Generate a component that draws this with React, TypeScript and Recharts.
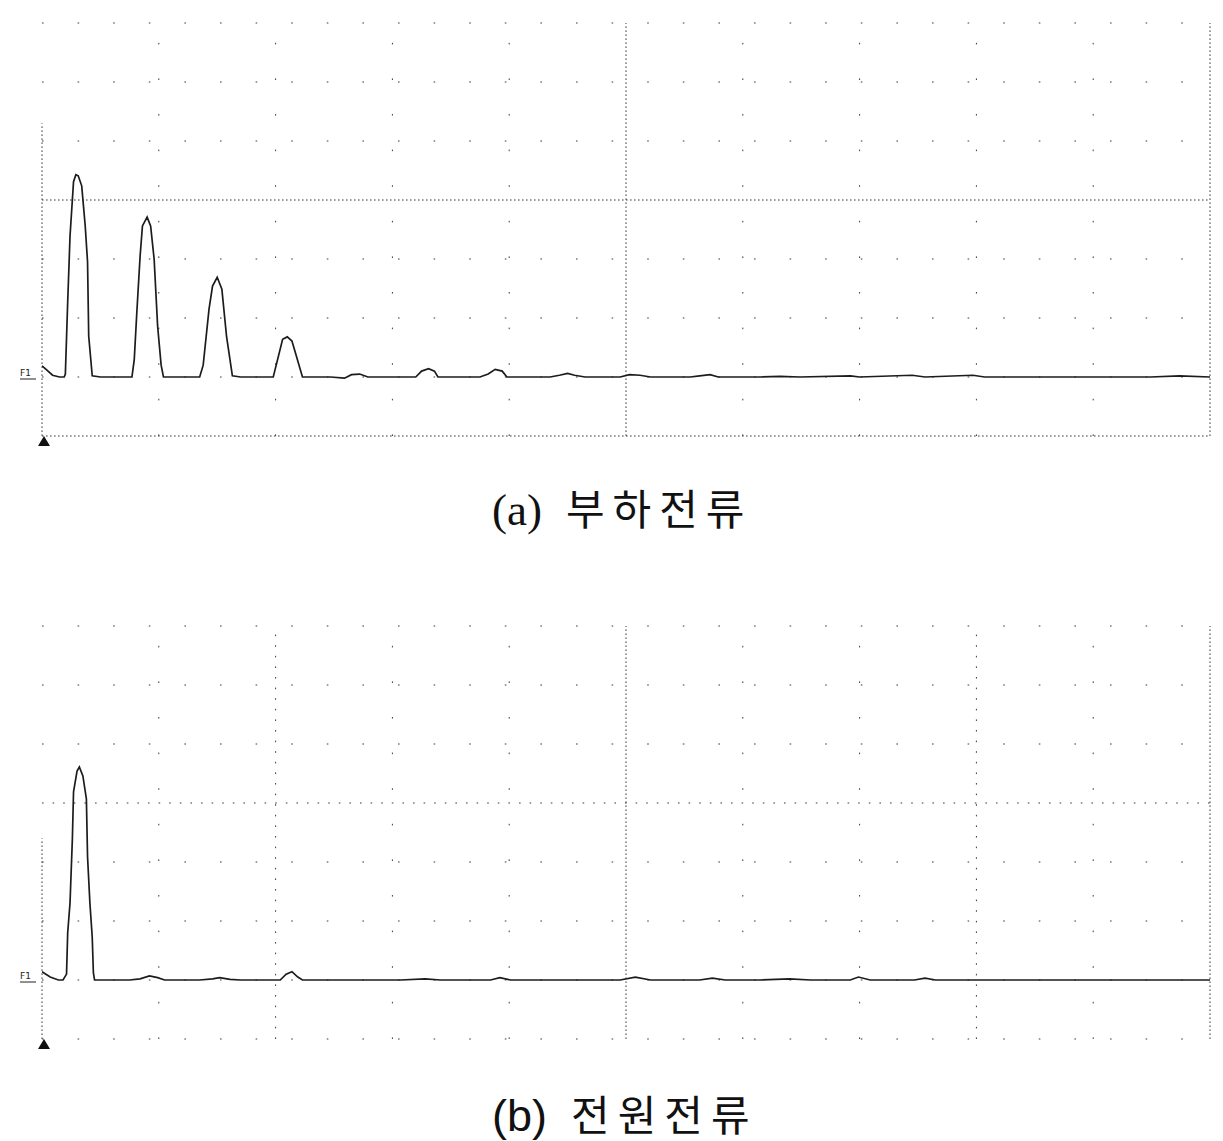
import React from "react";
import { LineChart, Line, XAxis, YAxis, ReferenceLine, ReferenceDot } from "recharts";

// Panel (a) load current spectrum: x in screen divisions (0..10), amplitude in vertical divisions
const loadX = [0.0, 0.04, 0.09, 0.15, 0.19, 0.2, 0.22, 0.24, 0.27, 0.29, 0.31, 0.34, 0.37, 0.39, 0.4, 0.43, 0.5, 0.67, 0.77, 0.79, 0.81, 0.84, 0.86, 0.9, 0.93, 0.96, 0.99, 1.02, 1.04, 1.22, 1.35, 1.38, 1.43, 1.46, 1.5, 1.54, 1.58, 1.63, 1.7, 1.87, 1.98, 2.06, 2.1, 2.14, 2.23, 2.47, 2.59, 2.65, 2.72, 2.79, 3.07, 3.2, 3.25, 3.31, 3.36, 3.39, 3.75, 3.82, 3.88, 3.94, 3.98, 4.35, 4.43, 4.5, 4.56, 4.65, 4.95, 5.03, 5.12, 5.21, 5.55, 5.63, 5.72, 5.79, 6.15, 6.32, 6.49, 6.92, 7.0, 7.45, 7.56, 7.97, 8.07, 9.06, 9.49, 9.74, 10.0];
const loadY = [0.19, 0.12, 0.03, 0.0, 0.0, 0.05, 1.27, 2.39, 3.31, 3.43, 3.41, 3.24, 2.56, 1.95, 0.69, 0.02, 0.0, 0.0, 0.0, 0.3, 1.03, 2.05, 2.56, 2.71, 2.56, 2.0, 0.86, 0.2, 0.0, 0.0, 0.0, 0.2, 1.15, 1.54, 1.69, 1.49, 0.69, 0.02, 0.0, 0.0, 0.0, 0.64, 0.68, 0.61, 0.0, 0.0, -0.02, 0.04, 0.05, 0.0, 0.0, 0.0, 0.1, 0.14, 0.1, 0.0, 0.0, 0.05, 0.13, 0.1, 0.0, 0.0, 0.03, 0.06, 0.03, 0.0, 0.0, 0.04, 0.03, 0.0, 0.0, 0.02, 0.04, 0.0, 0.0, 0.01, 0.0, 0.02, 0.0, 0.03, 0.0, 0.03, 0.0, 0.0, 0.0, 0.02, 0.0];

// Panel (b) source current spectrum
const sourceX = [0.0, 0.07, 0.14, 0.18, 0.21, 0.22, 0.24, 0.26, 0.27, 0.3, 0.32, 0.35, 0.38, 0.39, 0.41, 0.43, 0.44, 0.45, 0.75, 0.84, 0.92, 0.99, 1.05, 1.35, 1.46, 1.52, 1.61, 1.7, 2.04, 2.09, 2.14, 2.19, 2.23, 3.07, 3.28, 3.41, 3.84, 3.92, 4.01, 4.95, 5.08, 5.21, 5.63, 5.74, 5.85, 6.15, 6.4, 6.58, 6.92, 6.99, 7.09, 7.47, 7.56, 7.65, 10.0];
const sourceY = [0.14, 0.05, 0.0, 0.0, 0.1, 0.8, 1.31, 2.39, 3.19, 3.54, 3.61, 3.46, 3.07, 2.09, 1.31, 0.73, 0.12, 0.0, 0.0, 0.02, 0.07, 0.04, 0.0, 0.0, 0.02, 0.04, 0.01, 0.0, 0.0, 0.1, 0.14, 0.05, 0.0, 0.0, 0.02, 0.0, 0.0, 0.04, 0.0, 0.0, 0.05, 0.0, 0.0, 0.03, 0.0, 0.0, 0.02, 0.0, 0.0, 0.05, 0.0, 0.0, 0.03, 0.0, 0.0];

const xGrid = [0, 1, 2, 3, 4, 5, 6, 7, 8, 9, 10];
const yGrid = [-1, 0, 1, 2, 3, 4, 5, 6];

const captionA = { tag: "(a)", text: "부하전류" };
const captionB = { tag: "(b)", text: "전원전류" };

const loadData = loadX.map((x, i) => ({ x, y: loadY[i] }));
const sourceData = sourceX.map((x, i) => ({ x, y: sourceY[i] }));

const GRID = "#3a3a3a";
const SPARSE = "1.6 34";
const DENSE = "1.6 2.4";
const MID = "1.6 9";

type LineSpec = { v: number; dash: string; from?: number; to?: number };

function Panel({ data, top, vLines, hLines }: { data: { x: number; y: number }[]; top: number; vLines: LineSpec[]; hLines: LineSpec[] }) {
  return (
    <div style={{ position: "absolute", left: 0, top, width: 1223, height: 470 }}>
      <LineChart width={1223} height={470} data={data} margin={{ top: 23, right: 13, bottom: 34, left: 42 }}>
        <XAxis type="number" dataKey="x" domain={[0, 10]} hide allowDataOverflow />
        <YAxis type="number" domain={[-1, 6]} hide allowDataOverflow />
        {hLines.map((l, i) =>
          l.from !== undefined ? (
            <ReferenceLine key={"h" + i} segment={[{ x: l.from, y: l.v }, { x: l.to as number, y: l.v }]} stroke={GRID} strokeWidth={1} strokeDasharray={l.dash} />
          ) : (
            <ReferenceLine key={"h" + i} y={l.v} stroke={GRID} strokeWidth={1} strokeDasharray={l.dash} />
          )
        )}
        {vLines.map((l, i) =>
          l.from !== undefined ? (
            <ReferenceLine key={"v" + i} segment={[{ x: l.v, y: l.from }, { x: l.v, y: l.to as number }]} stroke={GRID} strokeWidth={1} strokeDasharray={l.dash} />
          ) : (
            <ReferenceLine key={"v" + i} x={l.v} stroke={GRID} strokeWidth={1} strokeDasharray={l.dash} />
          )
        )}
        <Line type="linear" dataKey="y" stroke="#1c1c1c" strokeWidth={1.7} dot={false} isAnimationActive={false} />
        <ReferenceDot
          x={0}
          y={0}
          r={0}
          ifOverflow="visible"
          shape={(p: any) => (
            <g>
              <text x={p.cx - 22} y={p.cy - 1} fontSize={9} fontFamily="DejaVu Sans" fill="#222">F1</text>
              <line x1={p.cx - 22} x2={p.cx - 6} y1={p.cy + 2} y2={p.cy + 2} stroke="#222" strokeWidth={1} />
            </g>
          )}
        />
        <ReferenceDot
          x={0}
          y={-1}
          r={0}
          ifOverflow="visible"
          shape={(p: any) => (
            <polygon points={`${p.cx + 2},${p.cy} ${p.cx - 4},${p.cy + 10} ${p.cx + 8},${p.cy + 10}`} fill="#111" />
          )}
        />
      </LineChart>
    </div>
  );
}

function Caption({ top, left, tag, text, tagFont }: { top: number; left: number; tag: string; text: string; tagFont: string }) {
  return (
    <div style={{ position: "absolute", left, top, whiteSpace: "nowrap", fontSize: 42, lineHeight: "44px", height: 44, color: "#111" }}>
      <span style={{ fontFamily: tagFont, fontSize: 45 }}>{tag}</span>
      <span style={{ fontFamily: "'Noto Sans CJK KR'", letterSpacing: 8, marginLeft: 24 }}>{text}</span>
    </div>
  );
}

export default function App() {
  const vA: LineSpec[] = xGrid.map((v) => {
    if (v === 0) return { v, dash: DENSE, from: -1, to: 4.3 };
    if (v === 5 || v === 10) return { v, dash: DENSE };
    return { v, dash: SPARSE };
  });
  const hA: LineSpec[] = yGrid.map((v) => {
    if (v === 3 || v === -1) return { v, dash: DENSE };
    return { v, dash: SPARSE };
  });
  const vB: LineSpec[] = xGrid.map((v) => {
    if (v === 0) return { v, dash: DENSE, from: -1, to: 2.4 };
    if (v === 5 || v === 10) return { v, dash: DENSE };
    if (v === 2 || v === 8) return { v, dash: MID };
    return { v, dash: SPARSE };
  });
  const hB: LineSpec[] = yGrid.map((v) => {
    if (v === 3) return { v, dash: MID };
    return { v, dash: SPARSE };
  });
  return (
    <div style={{ position: "absolute", left: 0, top: 0, width: 1223, height: 1141, background: "#fff" }}>
      <Panel data={loadData} top={0} vLines={vA} hLines={hA} />
      <Panel data={sourceData} top={603} vLines={vB} hLines={hB} />
      <Caption top={485} left={492} tag={captionA.tag} text={captionA.text} tagFont="'Liberation Serif'" />
      <Caption top={1091} left={492} tag={captionB.tag} text={captionB.text} tagFont="'Liberation Sans'" />
    </div>
  );
}
